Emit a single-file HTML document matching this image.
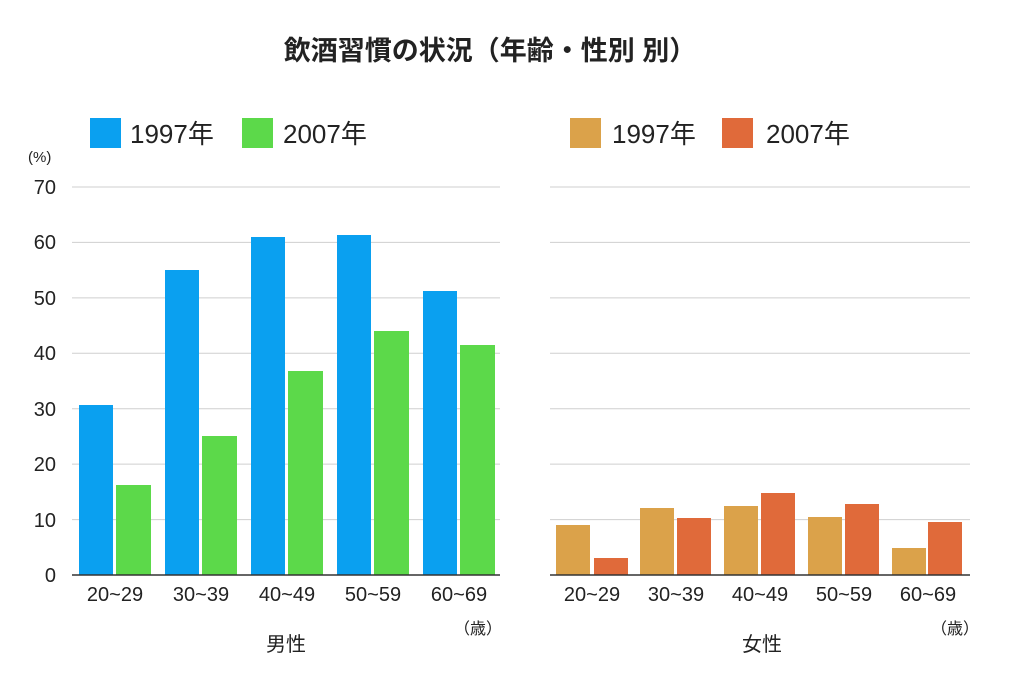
<!DOCTYPE html>
<html><head><meta charset="utf-8"><style>
body{margin:0;background:#fff}
text{font-family:"Liberation Sans","Noto Sans CJK JP",sans-serif;fill:#222}
</style></head><body>
<svg width="1024" height="684" viewBox="0 0 1024 684" xmlns="http://www.w3.org/2000/svg">
<rect width="1024" height="684" fill="#fff"/>
<text x="490" y="60" font-size="27" font-weight="bold" text-anchor="middle" fill="#000">飲酒習慣の状況（年齢・性別 別）</text>
<rect x="90" y="118" width="31" height="30" fill="#0aa0f0"/><text x="130" y="143" font-size="26">1997年</text>
<rect x="242" y="118" width="31" height="30" fill="#5cd94a"/><text x="283" y="143" font-size="26">2007年</text>
<rect x="570" y="118" width="31" height="30" fill="#dba24a"/><text x="612" y="143" font-size="26">1997年</text>
<rect x="722" y="118" width="31" height="30" fill="#e06a3a"/><text x="766" y="143" font-size="26">2007年</text>
<text x="28" y="162" font-size="15">(%)</text>
<g stroke="#cfcfcf" stroke-width="1">
<line x1="72" x2="500" y1="187" y2="187"/><line x1="72" x2="500" y1="242.4" y2="242.4"/><line x1="72" x2="500" y1="297.9" y2="297.9"/><line x1="72" x2="500" y1="353.3" y2="353.3"/><line x1="72" x2="500" y1="408.7" y2="408.7"/><line x1="72" x2="500" y1="464.1" y2="464.1"/><line x1="72" x2="500" y1="519.6" y2="519.6"/>
<line x1="550" x2="970" y1="187" y2="187"/><line x1="550" x2="970" y1="242.4" y2="242.4"/><line x1="550" x2="970" y1="297.9" y2="297.9"/><line x1="550" x2="970" y1="353.3" y2="353.3"/><line x1="550" x2="970" y1="408.7" y2="408.7"/><line x1="550" x2="970" y1="464.1" y2="464.1"/><line x1="550" x2="970" y1="519.6" y2="519.6"/>
</g>
<g font-size="20" text-anchor="end">
<text x="56" y="194">70</text><text x="56" y="249">60</text><text x="56" y="305">50</text><text x="56" y="360">40</text><text x="56" y="416">30</text><text x="56" y="471">20</text><text x="56" y="527">10</text><text x="56" y="582">0</text>
</g>
<!-- men -->
<g fill="#0aa0f0">
<rect x="79" y="405" width="34" height="170"/><rect x="165" y="270" width="34" height="305"/><rect x="251" y="237" width="34" height="338"/><rect x="337" y="235" width="34" height="340"/><rect x="423" y="291" width="34" height="284"/>
</g>
<g fill="#5cd94a">
<rect x="116" y="485" width="35" height="90"/><rect x="202" y="436" width="35" height="139"/><rect x="288" y="371" width="35" height="204"/><rect x="374" y="331" width="35" height="244"/><rect x="460" y="345" width="35" height="230"/>
</g>
<!-- women -->
<g fill="#dba24a">
<rect x="556" y="525" width="34" height="50"/><rect x="640" y="508" width="34" height="67"/><rect x="724" y="506" width="34" height="69"/><rect x="808" y="517" width="34" height="58"/><rect x="892" y="548" width="34" height="27"/>
</g>
<g fill="#e06a3a">
<rect x="594" y="558" width="34" height="17"/><rect x="677" y="518" width="34" height="57"/><rect x="761" y="493" width="34" height="82"/><rect x="845" y="504" width="34" height="71"/><rect x="928" y="522" width="34" height="53"/>
</g>
<line x1="72" x2="500" y1="575" y2="575" stroke="#333" stroke-width="1.5"/>
<line x1="550" x2="970" y1="575" y2="575" stroke="#333" stroke-width="1.5"/>
<g font-size="20" text-anchor="middle">
<text x="115" y="601">20~29</text><text x="201" y="601">30~39</text><text x="287" y="601">40~49</text><text x="373" y="601">50~59</text><text x="459" y="601">60~69</text>
<text x="592" y="601">20~29</text><text x="676" y="601">30~39</text><text x="760" y="601">40~49</text><text x="844" y="601">50~59</text><text x="928" y="601">60~69</text>
<text x="286" y="651">男性</text><text x="762" y="651">女性</text>
</g>
<text x="478" y="634" font-size="16" text-anchor="middle">（歳）</text>
<text x="955" y="634" font-size="16" text-anchor="middle">（歳）</text>
</svg>
</body></html>
